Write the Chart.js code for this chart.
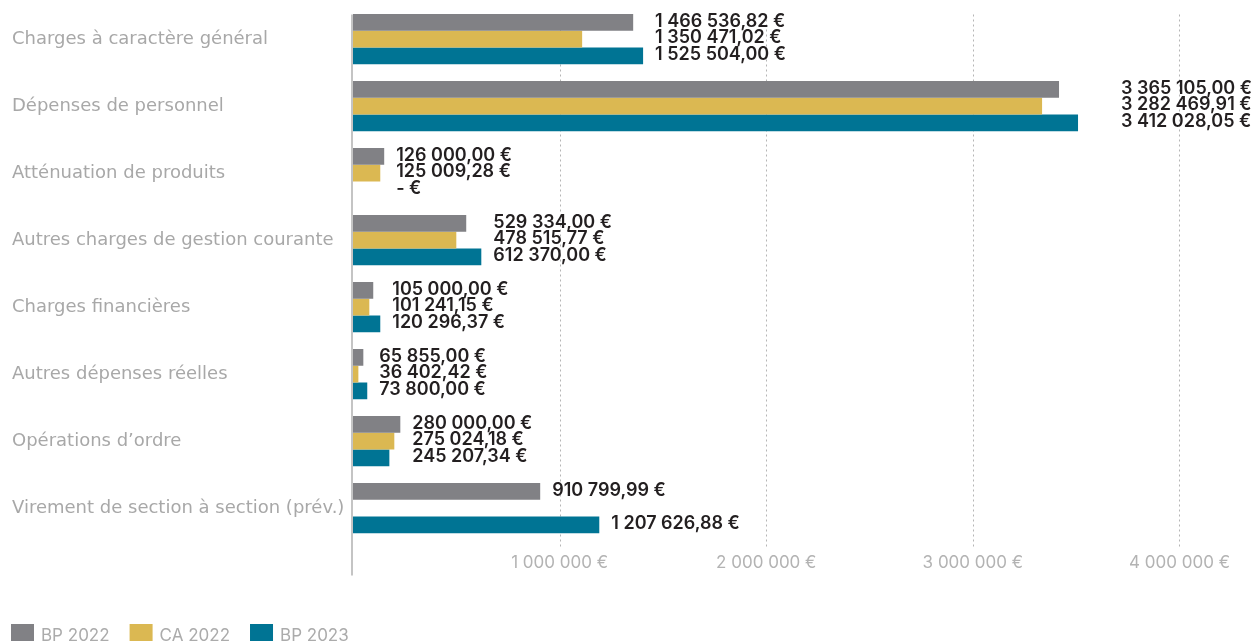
<!DOCTYPE html>
<html>
<head>
<meta charset="utf-8">
<script src="https://cdn.jsdelivr.net/npm/chart.js@4"></script>
<style>
    html, body { margin: 0; padding: 0; background: #fff; overflow: hidden; }
    #wrap { position: relative; width: 1258px; height: 641px; }
</style>
</head>
<body>
<div id="wrap"><canvas id="myChart"></canvas></div>
<script>
// Catégories (axe vertical)
const categories = [
    'Charges à caractère général',
    'Dépenses de personnel',
    'Atténuation de produits',
    'Autres charges de gestion courante',
    'Charges financières',
    'Autres dépenses réelles',
    'Opérations d’ordre',
    'Virement de section à section (prév.)'
];

const bp2022 = [1356000, 3417000, 151000, 548000, 98000, 50000, 229000, 906000];
const ca2022 = [1109000, 3335000, 132000, 500000, 79000, 26000, 200000, null];
const bp2023 = [1404000, 3509000, 0, 621000, 132000, 69000, 176000, 1192000];

// Étiquettes affichées à droite des barres
const bp2022Labels = ['1 466 536,82 €', '3 365 105,00 €', '126 000,00 €', '529 334,00 €', '105 000,00 €', '65 855,00 €', '280 000,00 €', '910 799,99 €'];
const ca2022Labels = ['1 350 471,02 €', '3 282 469,91 €', '125 009,28 €', '478 515,77 €', '101 241,15 €', '36 402,42 €', '275 024,18 €', null];
const bp2023Labels = ['1 525 504,00 €', '3 412 028,05 €', '- €', '612 370,00 €', '120 296,37 €', '73 800,00 €', '245 207,34 €', '1 207 626,88 €'];

// Graduations de l'axe horizontal
const xTicks = [0, 1000000, 2000000, 3000000, 4000000];
const xTickLabels = ['', '1 000 000 €', '2 000 000 €', '3 000 000 €', '4 000 000 €'];

const FONT = 'Inter, "Noto Sans", sans-serif';

// Grille pointillée et axe gauche
const gridPlugin = {
    id: 'gridPlugin',
    beforeDatasetsDraw(chart) {
        const ctx = chart.ctx;
        const area = chart.chartArea;
        const x = chart.scales.x;
        ctx.save();
        ctx.strokeStyle = '#b5b5b5';
        ctx.lineWidth = 1;
        ctx.setLineDash([2, 3]);
        xTicks.forEach(v => {
            if (v === 0) return;
            const px = Math.round(x.getPixelForValue(v)) + 0.5;
            ctx.beginPath();
            ctx.moveTo(px, area.top + 9);
            ctx.lineTo(px, area.bottom + 7);
            ctx.stroke();
        });
        ctx.setLineDash([]);
        ctx.strokeStyle = '#c4c4c4';
        ctx.lineWidth = 2;
        const x0 = x.getPixelForValue(0) - 1;
        ctx.beginPath();
        ctx.moveTo(x0, area.top + 9);
        ctx.lineTo(x0, area.bottom + 34);
        ctx.stroke();
        ctx.restore();
    }
};

// Valeurs écrites à droite des barres
const valueLabels = {
    id: 'valueLabels',
    afterDatasetsDraw(chart) {
        const ctx = chart.ctx;
        const labelSets = [bp2022Labels, ca2022Labels, bp2023Labels];
        const limit = chart.scales.x.getPixelForValue(4000000);
        ctx.save();
        ctx.font = '600 18px ' + FONT;
        ctx.fillStyle = '#231f20';
        ctx.textBaseline = 'middle';
        ctx.textAlign = 'left';
        categories.forEach((cat, i) => {
            const bars = [];
            chart.data.datasets.forEach((ds, d) => {
                const el = chart.getDatasetMeta(d).data[i];
                if (ds.data[i] === null || labelSets[d][i] === null) return;
                bars.push({ el, text: labelSets[d][i] });
            });
            const grouped = bars.length === chart.data.datasets.length;
            const maxX = Math.max(...bars.map(b => b.el.x));
            const maxW = Math.max(...bars.map(b => ctx.measureText(b.text).width));
            let gx = maxX + 12;
            if (gx + maxW > limit) gx = chart.width - 6 - maxW;
            bars.forEach(b => {
                const tx = grouped ? gx : b.el.x + 12;
                ctx.fillText(b.text, tx, b.el.y - 1);
            });
        });
        ctx.restore();
    }
};

// Légende en bas à gauche
const legendPlugin = {
    id: 'legendPlugin',
    afterDraw(chart) {
        const ctx = chart.ctx;
        ctx.save();
        ctx.font = '17px ' + FONT;
        ctx.textBaseline = 'middle';
        ctx.textAlign = 'left';
        let x = 11;
        chart.data.datasets.forEach(ds => {
            ctx.fillStyle = ds.backgroundColor;
            ctx.fillRect(x, 624, 23, 17);
            ctx.fillStyle = '#ababab';
            ctx.fillText(ds.label, x + 30, 636);
            x += 30 + ctx.measureText(ds.label).width + 20;
        });
        ctx.restore();
    }
};

const ctx = document.getElementById('myChart').getContext('2d');
new Chart(ctx, {
    type: 'bar',
    data: {
        labels: categories,
        datasets: [
            { label: 'BP 2022', data: bp2022, backgroundColor: '#818185' },
            { label: 'CA 2022', data: ca2022, backgroundColor: '#dbb852' },
            { label: 'BP 2023', data: bp2023, backgroundColor: '#007494' }
        ]
    },
    options: {
        indexAxis: 'y',
        responsive: true,
        maintainAspectRatio: false,
        animation: false,
        categoryPercentage: 0.75,
        barPercentage: 1.0,
        layout: { padding: { top: 5.5, left: 12, right: 0, bottom: 25.5 } },
        scales: {
            x: {
                min: 0,
                max: 4380000,
                afterBuildTicks(scale) {
                    scale.ticks = xTicks.map(v => ({ value: v }));
                },
                afterFit(scale) {
                    scale.height = 74;
                    scale.paddingLeft = 0;
                    scale.paddingRight = 0;
                },
                grid: { display: false, drawTicks: false },
                border: { display: false },
                ticks: {
                    padding: 11,
                    color: '#b3b3b3',
                    font: { family: FONT, size: 17 },
                    maxRotation: 0,
                    autoSkip: false,
                    callback: (v) => xTickLabels[xTicks.indexOf(v)] || ''
                }
            },
            y: {
                afterFit(scale) {
                    scale.width = 341;
                    scale.paddingTop = 0;
                    scale.paddingBottom = 0;
                },
                grid: { display: false },
                border: { display: false },
                ticks: {
                    crossAlign: 'far',
                    color: '#a8a8a8',
                    font: { family: '"DejaVu Sans", sans-serif', size: 18 },
                    padding: 12
                }
            }
        },
        plugins: {
            legend: { display: false },
            tooltip: { enabled: false }
        }
    },
    plugins: [gridPlugin, valueLabels, legendPlugin]
});
</script>
</body>
</html>
